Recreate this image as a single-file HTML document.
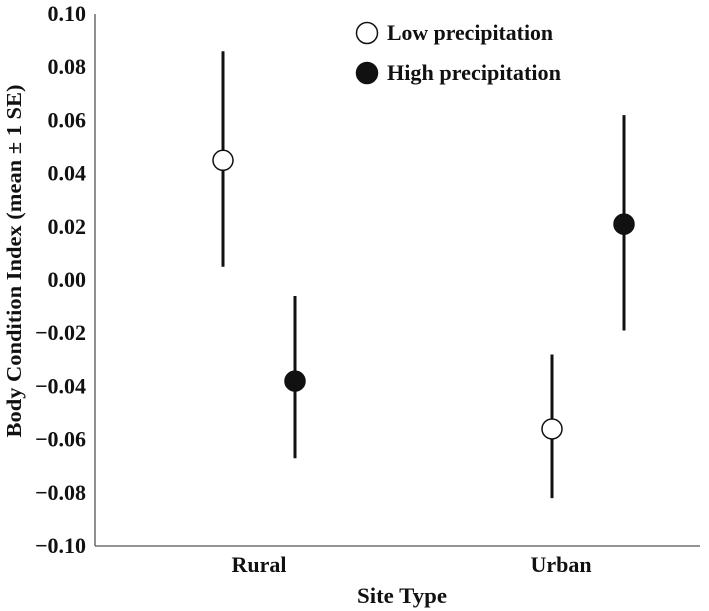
<!DOCTYPE html>
<html><head><meta charset="utf-8"><style>
body{margin:0;background:#fff;}
svg{display:block;font-family:"Liberation Serif",serif;font-weight:bold;}
</style></head><body>
<svg id="chart" width="709" height="611" viewBox="0 0 709 611" xmlns="http://www.w3.org/2000/svg"></svg>
<script>
const categories = ["Rural", "Urban"];
const seriesNames = ["Low precipitation", "High precipitation"];
const lowMean = [0.045, -0.056];
const lowLo = [0.005, -0.082];
const lowHi = [0.086, -0.028];
const highMean = [-0.038, 0.021];
const highLo = [-0.067, -0.019];
const highHi = [-0.006, 0.062];
const yTicks = [0.10, 0.08, 0.06, 0.04, 0.02, 0.00, -0.02, -0.04, -0.06, -0.08, -0.10];
const yTickLabels = ["0.10","0.08","0.06","0.04","0.02","0.00","\u22120.02","\u22120.04","\u22120.06","\u22120.08","\u22120.10"];

const svg = document.getElementById('chart');
const NS = "http://www.w3.org/2000/svg";
const X0 = 95, X1 = 700, YT = 14, YB = 546;
function y(v){ return YB - (v - (-0.10)) / 0.20 * (YB - YT); }
const catX = [259, 588];
const labelX = [259, 561];
const offset = 36;
function el(tag, attrs, text){
  const e = document.createElementNS(NS, tag);
  for (const k in attrs) e.setAttribute(k, attrs[k]);
  if (text !== undefined) e.textContent = text;
  svg.appendChild(e);
  return e;
}
let a = el('line', {x1:X0, y1:YT, x2:X0, y2:YB, stroke:'#555', 'stroke-width':1.3});


a = el('line', {x1:X0, y1:YB, x2:X1, y2:YB, stroke:'#555', 'stroke-width':1.3});


yTicks.forEach((v, i) => {
  const t = el('text', {x:86, y:y(v)+7, 'text-anchor':'end', 'font-size':22, fill:'#111'}, yTickLabels[i]);
  
  
});
categories.forEach((c, i) => {
  const t = el('text', {x:labelX[i], y:572, 'text-anchor':'middle', 'font-size':22, fill:'#111'}, c);
  
  
});
let t = el('text', {x:402, y:603, 'text-anchor':'middle', 'font-size':22, textLength:90, lengthAdjust:'spacingAndGlyphs', fill:'#111'}, 'Site Type');


t = el('text', {x:0, y:0, transform:'translate(21,261) rotate(-90)', 'text-anchor':'middle', 'font-size':21, textLength:353, lengthAdjust:'spacingAndGlyphs', fill:'#111'}, 'Body Condition Index (mean \u00b1 1 SE)');



function series(mean, lo, hi, dx, fill, name){
  mean.forEach((m, i) => {
    const cx = catX[i] + dx;
    const l = el('line', {x1:cx, y1:y(hi[i]), x2:cx, y2:y(lo[i]), stroke:'#111', 'stroke-width':3});
    
    
    const c = el('circle', {cx:cx, cy:y(m), r:10, fill:fill, stroke:'#111', 'stroke-width':1.5});
    
    
  });
}
series(lowMean, lowLo, lowHi, -offset, '#fff', 'low-precipitation');
series(highMean, highLo, highHi, offset, '#111', 'high-precipitation');

[['#fff', 33, 166], ['#111', 73, 174]].forEach((s, i) => {
  const c = el('circle', {cx:367, cy:s[1], r:10.5, fill:s[0], stroke:'#111', 'stroke-width':1.5});
  
  
  const lt = el('text', {x:387, y:s[1]+7, 'font-size':22, textLength:s[2], lengthAdjust:'spacingAndGlyphs', fill:'#111'}, seriesNames[i]);
  
  
});
</script>
</body></html>
